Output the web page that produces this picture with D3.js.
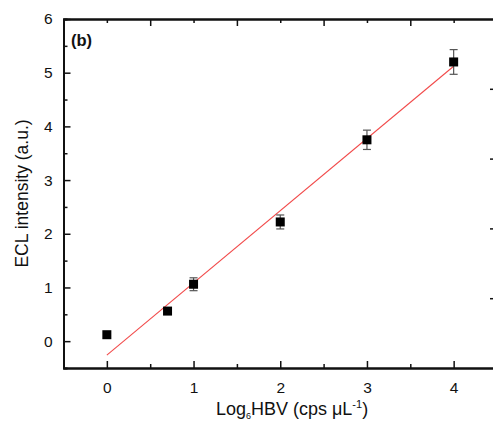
<!DOCTYPE html>
<html>
<head>
<meta charset="utf-8">
<script src="https://cdn.jsdelivr.net/npm/d3@7"></script>
<style>
  body { margin: 0; background: #fff; }
  text { font-family: "Liberation Sans", Arial, sans-serif; fill: #111; }
</style>
</head>
<body>
<div id="plot"></div>
<script>
// data
var logHBV = [0, 0.7, 1, 2, 3, 4];
var ecl = [0.12, 0.56, 1.06, 2.22, 3.75, 5.2];
var errs = [0, 0, 0.12, 0.13, 0.18, 0.23];
var fitLine = [[0, -0.26], [4, 5.12]];
var xTicks = [0, 1, 2, 3, 4];
var yTicks = [0, 1, 2, 3, 4, 5, 6];

var W = 493, H = 421;
var pLeft = 63.5, pRight = 497, pTop = 19, pBottom = 368;

var x = d3.scaleLinear().domain([-0.5, 4.5]).range([pLeft, pRight]);
var y = d3.scaleLinear().domain([-0.5, 6]).range([pBottom, pTop]);
// linked top / right axes (offset scales)
var xTop = d3.scaleLinear().domain([0, 5]).range([pLeft, pRight]);
var yRight = d3.scaleLinear().domain([0, 5]).range([pBottom, pTop]);

var svg = d3.select("#plot").append("svg")
  .attr("width", W).attr("height", H);

function halves(a, b) {
  var out = [];
  for (var v = a; v <= b + 1e-9; v += 0.5) if (Math.abs(v - Math.round(v)) > 0.1) out.push(v);
  return out;
}
var fmt = d3.format("d");

// bottom axis, inward ticks
var gb = svg.append("g").attr("transform", "translate(0," + pBottom + ")");
gb.call(d3.axisBottom(x).tickValues(xTicks).tickFormat(fmt).tickSizeInner(-7).tickSizeOuter(0).tickPadding(14));
gb.append("g").call(d3.axisBottom(x).tickValues(halves(0, 4)).tickSize(-4).tickFormat(""));

// left axis
var gl = svg.append("g").attr("transform", "translate(" + pLeft + ",0)");
gl.call(d3.axisLeft(y).tickValues(yTicks).tickFormat(fmt).tickSizeInner(-7).tickSizeOuter(0).tickPadding(11));
gl.append("g").call(d3.axisLeft(y).tickValues(halves(0, 6)).tickSize(-4).tickFormat(""));

// top axis
var gt = svg.append("g").attr("transform", "translate(0," + pTop + ")");
gt.call(d3.axisTop(xTop).tickValues([1, 2, 3, 4]).tickSizeInner(-7).tickSizeOuter(0).tickFormat(""));
gt.append("g").call(d3.axisTop(xTop).tickValues(halves(0, 5)).tickSize(-4).tickFormat(""));

// right axis
var gr = svg.append("g").attr("transform", "translate(" + pRight + ",0)");
gr.call(d3.axisRight(yRight).tickValues([1, 2, 3, 4]).tickSizeInner(-7).tickSizeOuter(0).tickFormat(""));
gr.append("g").call(d3.axisRight(yRight).tickValues(halves(0, 5)).tickSize(-4).tickFormat(""));

svg.selectAll(".domain").attr("stroke", "#111").attr("stroke-width", 2);
svg.selectAll(".tick line").attr("stroke", "#111").attr("stroke-width", 1.5);
svg.selectAll(".tick text").attr("font-size", 15.5).attr("fill", "#111")
  .attr("font-family", "'Liberation Sans', Arial, sans-serif");

// fit line
svg.append("line")
  .attr("x1", x(fitLine[0][0])).attr("y1", y(fitLine[0][1]))
  .attr("x2", x(fitLine[1][0])).attr("y2", y(fitLine[1][1]))
  .attr("stroke", "#f24a4a").attr("stroke-width", 1.1);

// error bars
var eb = svg.append("g").attr("stroke", "#555").attr("stroke-width", 1.2);
logHBV.forEach(function(v, i) {
  if (!errs[i]) return;
  var cx = x(v), y1 = y(ecl[i] + errs[i]), y2 = y(ecl[i] - errs[i]);
  eb.append("line").attr("x1", cx).attr("x2", cx).attr("y1", y1).attr("y2", y2);
  eb.append("line").attr("x1", cx - 4).attr("x2", cx + 4).attr("y1", y1).attr("y2", y1);
  eb.append("line").attr("x1", cx - 4).attr("x2", cx + 4).attr("y1", y2).attr("y2", y2);
});

// markers
svg.selectAll(".pt").data(logHBV).enter().append("rect")
  .attr("class", "pt")
  .attr("x", function(d) { return x(d) - 4.5; })
  .attr("y", function(d, i) { return y(ecl[i]) - 4.5; })
  .attr("width", 9).attr("height", 9)
  .attr("fill", "#000");

// panel label
svg.append("text").attr("x", 71).attr("y", 46)
  .style("font-size", "16.5px").style("font-weight", "bold").text("(b)");

// axis titles
svg.append("text")
  .attr("transform", "translate(28," + (pTop + pBottom) / 2 + ") rotate(-90)")
  .attr("text-anchor", "middle").style("font-size", "17.5px")
  .text("ECL intensity (a.u.)");

var xl = svg.append("text").attr("x", 292).attr("y", 415)
  .attr("text-anchor", "middle").style("font-size", "18px");
xl.append("tspan").text("Log");
xl.append("tspan").attr("dy", 4).style("font-size", "9px").text("6");
xl.append("tspan").attr("dy", -4).text("HBV (cps \u03bcL");
xl.append("tspan").attr("dy", -7).style("font-size", "11px").text("-1");
xl.append("tspan").attr("dy", 7).text(")");
</script>
</body>
</html>
